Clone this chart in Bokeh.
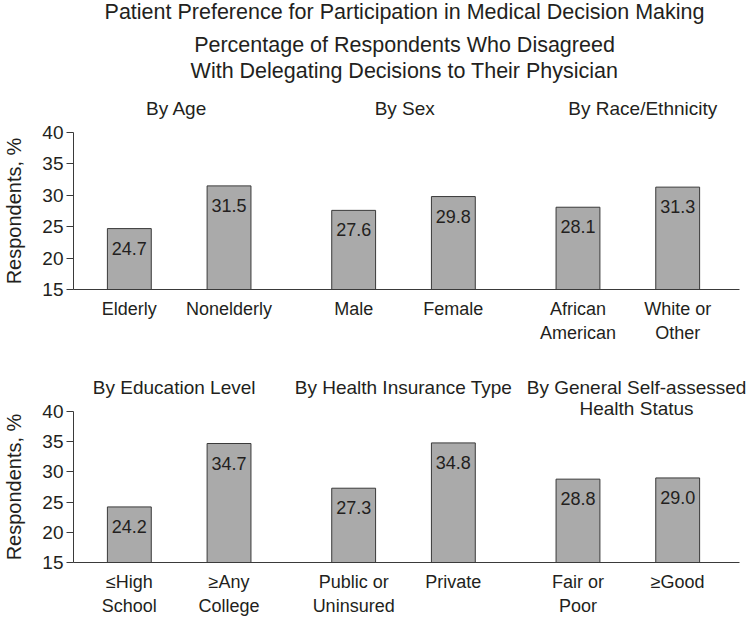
from bokeh.plotting import figure
from bokeh.models import Range1d, FixedTicker, ColumnDataSource, LinearAxis
from bokeh.layouts import column
from bokeh.embed import file_html
from bokeh.resources import INLINE
from bokeh.core.properties import value

# ---------------- data ----------------
chart_title = "Patient Preference for Participation in Medical Decision Making"
chart_subtitle = ["Percentage of Respondents Who Disagreed",
                  "With Delegating Decisions to Their Physician"]
y_axis_label = "Respondents, %"
y_ticks = [15, 20, 25, 30, 35, 40]

top_panel_titles = ["By Age", "By Sex", "By Race/Ethnicity"]
top_categories = ["Elderly", "Nonelderly", "Male", "Female",
                  "African\nAmerican", "White or\nOther"]
top_values = [24.7, 31.5, 27.6, 29.8, 28.1, 31.3]

bottom_panel_titles = ["By Education Level", "By Health Insurance Type",
                       "By General Self-assessed\nHealth Status"]
bottom_categories = ["≤High\nSchool", "≥Any\nCollege", "Public or\nUninsured",
                     "Private", "Fair or\nPoor", "≥Good"]
bottom_values = [24.2, 34.7, 27.3, 34.8, 28.8, 29.0]

# ---------------- style / layout ----------------
FONT = "Liberation Sans"
TEXT_COLOR = "#231f20"
BAR_FILL = "#aaaaaa"
BAR_LINE = "#3a3a3a"
AXIS_COLOR = "#3a3a3a"
Y_MIN, Y_MAX = 15, 40
WIDTH = 747
LEFT = 71
RIGHT = 8
X0 = 3.52
X1 = X0 + (WIDTH - LEFT - RIGHT) / 12.5
BAR_W = 3.52


def bar_positions():
    return [8 + 18 * g + 8 * j for g in range(3) for j in range(2)]


def build_row(panel_titles, title_x, categories, values, height,
              border_top, border_bottom, title_standoff):
    xs = bar_positions()
    p = figure(width=WIDTH, height=height, title=None,
               x_range=Range1d(X0, X1), y_range=Range1d(Y_MIN, Y_MAX),
               min_border_left=LEFT, min_border_right=RIGHT,
               min_border_top=border_top, min_border_bottom=border_bottom,
               output_backend="svg", toolbar_location=None)
    p.outline_line_color = None
    p.grid.visible = False

    src = ColumnDataSource(dict(x=xs, top=values,
                                label=[f"{v:.1f}" for v in values]))
    p.vbar(x="x", top="top", bottom=Y_MIN, width=BAR_W, source=src,
           fill_color=BAR_FILL, line_color=BAR_LINE, line_width=1)
    p.text(x="x", y="top", text="label", source=src, text_align="center",
           text_baseline="top", y_offset=13, text_font=value(FONT),
           text_font_size="18px", text_color=TEXT_COLOR)

    yax = p.yaxis[0]
    yax.ticker = FixedTicker(ticks=y_ticks)
    yax.minor_tick_line_color = None
    yax.major_tick_in = 0
    yax.major_tick_out = 7
    yax.major_tick_line_color = AXIS_COLOR
    yax.axis_line_color = AXIS_COLOR
    yax.major_label_standoff = 3
    yax.major_label_text_font = FONT
    yax.major_label_text_font_size = "19px"
    yax.major_label_text_color = TEXT_COLOR
    yax.axis_label = y_axis_label
    yax.axis_label_text_font = FONT
    yax.axis_label_text_font_size = "20px"
    yax.axis_label_text_font_style = "normal"
    yax.axis_label_text_color = TEXT_COLOR
    yax.axis_label_standoff = 14

    xax = p.xaxis[0]
    xax.ticker = FixedTicker(ticks=xs)
    xax.major_label_overrides = {x: c for x, c in zip(xs, categories)}
    xax.major_tick_in = 0
    xax.major_tick_out = 0
    xax.minor_tick_line_color = None
    xax.axis_line_color = AXIS_COLOR
    xax.major_label_standoff = 9
    xax.major_label_text_font = FONT
    xax.major_label_text_font_size = "18px"
    xax.major_label_text_line_height = 1.2
    xax.major_label_text_color = TEXT_COLOR

    # panel titles: an axis above the frame whose tick labels are the titles
    n_lines = max(t.count("\n") + 1 for t in panel_titles)
    labels = {}
    for x, t in zip(title_x, panel_titles):
        extra = n_lines - (t.count("\n") + 1)
        labels[x] = t + "\n\u00a0" * extra
    tax = LinearAxis(ticker=FixedTicker(ticks=title_x),
                     major_label_overrides=labels,
                     axis_line_color=None, major_tick_line_color=None,
                     minor_tick_line_color=None, major_tick_in=0,
                     major_tick_out=0, major_label_standoff=title_standoff,
                     major_label_text_font=FONT,
                     major_label_text_font_size="19px",
                     major_label_text_line_height=1.0,
                     major_label_text_color=TEXT_COLOR)
    p.add_layout(tax, "above")
    return p


# header with the chart title
header = figure(width=WIDTH, height=85, title=None,
                x_range=Range1d(X0, X1), y_range=Range1d(0, 85),
                min_border_left=LEFT, min_border_right=RIGHT, min_border_top=0,
                min_border_bottom=0, x_axis_location=None,
                y_axis_location=None, output_backend="svg",
                toolbar_location=None)
header.outline_line_color = None
header.grid.visible = False
mid_x = (X0 + X1) / 2 - 0.16
header.text(x=[mid_x] * 3, y=[74, 40.5, 15],
            text=[chart_title] + chart_subtitle, text_align="center",
            text_baseline="middle", text_font=value(FONT),
            text_font_size="21.5px", text_color=TEXT_COLOR)

p1 = build_row(top_panel_titles, [11.8, 30.1, 49.2], top_categories, top_values,
               height=265, border_top=47, border_bottom=61,
               title_standoff=14)
p2 = build_row(bottom_panel_titles, [11.6, 30.0, 48.7], bottom_categories,
               bottom_values, height=268, border_top=61, border_bottom=51,
               title_standoff=-7)

layout = column(header, p1, p2)
open("out.html", "w").write(file_html(layout, INLINE))
